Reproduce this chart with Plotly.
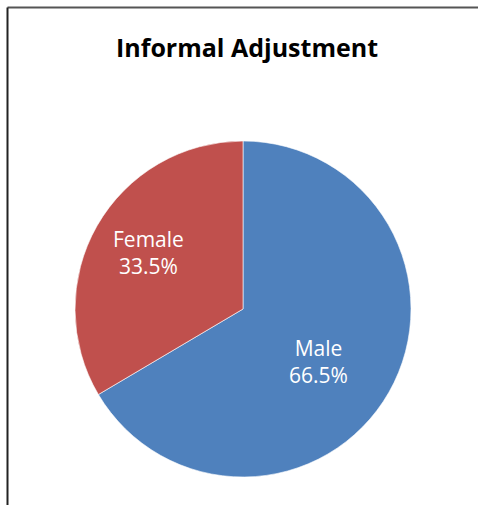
import math
import plotly.graph_objects as go

labels = ["Male", "Female"]
values = [66.5, 33.5]
colors = ["#4F81BD", "#C0504D"]
title = "Informal Adjustment"

# label placement styling (radial fraction of radius, clockwise angular nudge in degrees)
label_r = [0.545, 0.653]
label_dtheta = [5.0, 1.3]

W, H = 478, 505
cx, cy, r = 243, 309, 168

fig = go.Figure(go.Pie(
    labels=labels,
    values=values,
    sort=False,
    direction="clockwise",
    rotation=0,
    marker=dict(colors=colors, line=dict(color="rgba(255,255,255,0.6)", width=1)),
    textinfo="none",
    hoverinfo="label+percent",
    domain=dict(x=[(cx - r) / W, (cx + r) / W], y=[(H - cy - r) / H, (H - cy + r) / H]),
    showlegend=False,
))

# data labels placed along each slice's bisector (clockwise from 12 o'clock)
total = sum(values)
annotations = []
start = 0.0
for lab, val, rf, dt in zip(labels, values, label_r, label_dtheta):
    span = 360.0 * val / total
    mid = math.radians(start + span / 2 + dt)
    px = cx + rf * r * math.sin(mid)
    py = cy - rf * r * math.cos(mid)
    annotations.append(dict(
        x=px / W, y=1 - py / H, xref="paper", yref="paper",
        text=f"{lab}<br>{val / total * 100:.1f}%", showarrow=False,
        xanchor="center", yanchor="middle",
        font=dict(family="Open Sans", size=21, color="white"),
    ))
    start += span

fig.update_layout(
    width=W, height=H,
    margin=dict(l=0, r=0, t=0, b=0),
    paper_bgcolor="white",
    plot_bgcolor="white",
    title=dict(text="<b>" + title + "</b>", x=247 / W, xanchor="center", y=1 - 48 / H, yanchor="middle",
               font=dict(family="Open Sans", size=25, color="black")),
    annotations=annotations,
    shapes=[
        dict(type="line", xref="paper", yref="paper", x0=7.5 / W, x1=1, y0=1 - 7.5 / H, y1=1 - 7.5 / H,
             line=dict(color="#555555", width=2)),
        dict(type="line", xref="paper", yref="paper", x0=7.5 / W, x1=7.5 / W, y0=0, y1=1 - 7.5 / H,
             line=dict(color="#222222", width=2)),
    ],
)

fig.write_html("out.html", config={"displayModeBar": False},
               post_script="document.body.style.margin='0';")
